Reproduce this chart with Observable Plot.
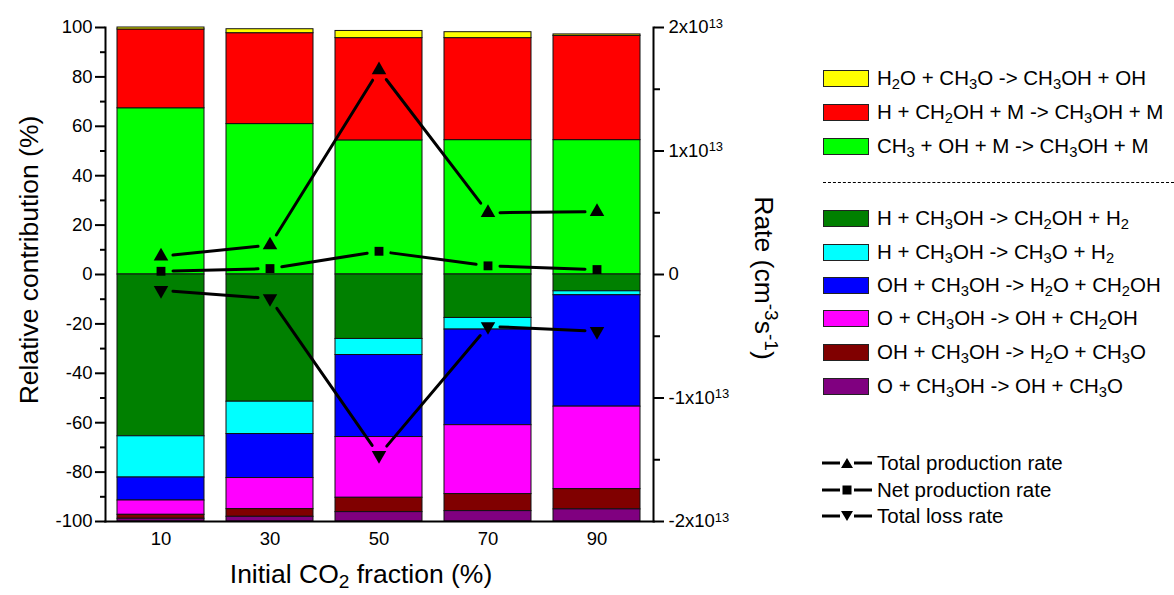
<!DOCTYPE html>
<html><head><meta charset="utf-8">
<script src="https://cdn.jsdelivr.net/npm/d3@7"></script>
<script src="https://cdn.jsdelivr.net/npm/@observablehq/plot@0.6"></script>
<style>
body{margin:0;background:#fff;font-family:"Liberation Sans",Arial,sans-serif;color:#000;}
#wrap{position:relative;width:1174px;height:595px;background:#fff;}
.t{position:absolute;white-space:nowrap;line-height:1;}
.title{font-size:26.5px;}
.leg{font-size:20.5px;}
sub{font-size:0.72em;vertical-align:-0.3em;line-height:0;}
sup{font-size:0.72em;vertical-align:0.5em;line-height:0;}
.sw{position:absolute;width:46px;height:17px;border:1px solid #222;box-sizing:border-box;}
</style></head><body><div id="wrap"></div>
<script>
// Categories (initial CO2 fraction, %)
const categories = ["10", "30", "50", "70", "90"];

// Reaction labels (HTML) and colours
const reactionLabels = [
  "H<sub>2</sub>O + CH<sub>3</sub>O -> CH<sub>3</sub>OH + OH",
  "H + CH<sub>2</sub>OH + M -> CH<sub>3</sub>OH + M",
  "CH<sub>3</sub> + OH + M -> CH<sub>3</sub>OH + M",
  "H + CH<sub>3</sub>OH -> CH<sub>2</sub>OH + H<sub>2</sub>",
  "H + CH<sub>3</sub>OH -> CH<sub>3</sub>O + H<sub>2</sub>",
  "OH + CH<sub>3</sub>OH -> H<sub>2</sub>O + CH<sub>2</sub>OH",
  "O + CH<sub>3</sub>OH -> OH + CH<sub>2</sub>OH",
  "OH + CH<sub>3</sub>OH -> H<sub>2</sub>O + CH<sub>3</sub>O",
  "O + CH<sub>3</sub>OH -> OH + CH<sub>3</sub>O"
];
const reactionKeys = ["h2o_ch3o", "h_ch2oh_m", "ch3_oh_m", "h_ch3oh_ch2oh", "h_ch3oh_ch3o", "oh_ch3oh_ch2oh", "o_ch3oh_ch2oh", "oh_ch3oh_ch3o", "o_ch3oh_ch3o"];
const reactionColors = ["#FFFF00", "#FF0000", "#00FF00", "#008000", "#00FFFF", "#0000FF", "#FF00FF", "#800000", "#800080"];

// Relative contributions (%) — production positive, consumption negative
const h2o_ch3o       = [0.8, 1.6, 2.9, 2.4, 0.6];
const h_ch2oh_m      = [31.9, 36.8, 41.4, 41.3, 42.2];
const ch3_oh_m       = [67.3, 60.9, 54.3, 54.4, 54.4];
const h_ch3oh_ch2oh  = [-65.5, -51.5, -26.1, -17.6, -6.8];
const h_ch3oh_ch3o   = [-16.7, -13.1, -6.5, -4.7, -1.6];
const oh_ch3oh_ch2oh = [-9.3, -17.8, -33.2, -38.7, -45.1];
const o_ch3oh_ch2oh  = [-5.8, -12.6, -24.6, -27.9, -33.4];
const oh_ch3oh_ch3o  = [-1.6, -3.1, -5.8, -6.9, -8.2];
const o_ch3oh_ch3o   = [-1.1, -1.9, -3.8, -4.2, -4.9];

// Rates (cm^-3 s^-1), right axis
const totalProduction = [1.48e12, 2.38e12, 1.656e13, 5.0e12, 5.08e12];
const netProduction   = [2.6e11, 4.8e11, 1.88e12, 7.0e11, 4.0e11];
const totalLoss       = [-1.28e12, -1.94e12, -1.464e13, -4.2e12, -4.6e12];

// Axis ticks
const leftTicks = [-100, -80, -60, -40, -20, 0, 20, 40, 60, 80, 100];
const leftMinor = [-90, -70, -50, -30, -10, 10, 30, 50, 70, 90];
const rightTicks = [-2e13, -1e13, 0, 1e13, 2e13];
const rightMinor = [-1.5e13, -5e12, 5e12, 1.5e13];
const rateMax = 2e13;

// ---------- build tables ----------
const series = {h2o_ch3o, h_ch2oh_m, ch3_oh_m, h_ch3oh_ch2oh, h_ch3oh_ch3o, oh_ch3oh_ch2oh, o_ch3oh_ch2oh, oh_ch3oh_ch3o, o_ch3oh_ch3o};
const order = ["ch3_oh_m", "h_ch2oh_m", "h2o_ch3o", "h_ch3oh_ch2oh", "h_ch3oh_ch3o", "oh_ch3oh_ch2oh", "o_ch3oh_ch2oh", "oh_ch3oh_ch3o", "o_ch3oh_ch3o"];
const barRows = [];
for (const k of order) categories.forEach((c, i) => barRows.push({cat: c, reaction: k, value: series[k][i]}));

const toPct = r => r / rateMax * 100;
function pts(arr) { return categories.map((c, i) => ({cat: c, y: toPct(arr[i])})); }
function segs(arr) { const p = pts(arr); return p.slice(1).map((d, i) => ({x1: p[i].cat, y1: p[i].y, x2: d.cat, y2: d.y})); }
const rateFmt = v => {
  if (v === 0) return "0";
  const m = v / 1e13;
  return (m < 0 ? "-" : "") + Math.abs(m) + "x10^13";
};

const lineOpts = {x1: "x1", y1: "y1", x2: "x2", y2: "y2", stroke: "#000", strokeWidth: 3, headLength: 0, insetStart: 12, insetEnd: 12};

const chart = Plot.plot({
  width: 1174, height: 595,
  marginLeft: 105, marginRight: 521, marginTop: 27, marginBottom: 74,
  x: {type: "band", domain: categories, paddingInner: 0.2, paddingOuter: 0.1, axis: null},
  y: {domain: [-100, 100], axis: null},
  color: {domain: reactionKeys, range: reactionColors},
  style: {fontFamily: "'Liberation Sans', Arial, sans-serif", fontSize: "18.5px", background: "transparent", overflow: "visible", color: "#000"},
  marks: [
    Plot.barY(barRows, {x: "cat", y: "value", fill: "reaction", stroke: "#111", strokeWidth: 1}),
    Plot.frame({anchor: "left", strokeWidth: 2}),
    Plot.frame({anchor: "right", strokeWidth: 2}),
    Plot.frame({anchor: "bottom", strokeWidth: 2}),
    Plot.axisY({ticks: leftTicks, tickSize: 10, tickPadding: 3, strokeWidth: 2, tickFormat: d => String(d), label: null}),
    Plot.axisY({ticks: leftMinor, tickSize: 5, strokeWidth: 2, tickFormat: () => "", label: null}),
    Plot.axisY({anchor: "right", ticks: rightTicks.map(toPct), tickSize: 10, tickPadding: 5, strokeWidth: 2, tickFormat: p => rateFmt(p / 100 * rateMax), label: null}),
    Plot.axisY({anchor: "right", ticks: rightMinor.map(toPct), tickSize: 6, strokeWidth: 2, tickFormat: () => "", label: null}),
    Plot.axisX({tickSize: 0, tickPadding: 10, label: null}),
    Plot.arrow(segs(totalProduction), lineOpts),
    Plot.arrow(segs(netProduction), lineOpts),
    Plot.arrow(segs(totalLoss), lineOpts),
    Plot.dot(pts(totalProduction), {x: "cat", y: "y", symbol: "triangle", r: 5.4, fill: "#000"}),
    Plot.dot(pts(netProduction), {x: "cat", y: "y", symbol: "square", r: 5, fill: "#000"}),
    Plot.dot(pts(totalLoss), {x: "cat", y: "y", symbol: "triangle", r: 5.4, fill: "#000", rotate: 180})
  ]
});

// superscripts in right-axis tick labels
d3.select(chart).selectAll("text").each(function() {
  const t = this.textContent;
  if (t.includes("^")) {
    const [base, exp] = t.split("^");
    const sel = d3.select(this);
    sel.text(null);
    sel.append("tspan").text(base);
    sel.append("tspan").attr("dy", "-0.45em").attr("font-size", "13px").text(exp);
  }
});

const wrap = document.getElementById("wrap");
wrap.appendChild(chart);

function addText(html, cls, x, y, rot) {
  const d = document.createElement("div");
  d.className = "t " + cls;
  d.innerHTML = html;
  d.style.left = x + "px"; d.style.top = y + "px";
  d.style.transform = "translate(-50%,-50%)" + (rot ? ` rotate(${rot}deg)` : "");
  wrap.appendChild(d);
}
addText("Relative contribution (%)", "title", 29, 260, -90);
addText("Initial CO<sub>2</sub> fraction (%)", "title", 361, 574, 0);
addText("Rate (cm<sup>-3</sup>s<sup>-1</sup>)", "title", 764, 278, 90);

// Legend (reactions)
const legendRows = [78, 112, 146, 218, 252, 285, 318, 352, 386];
reactionLabels.forEach((lab, i) => {
  const cy = legendRows[i];
  const sw = document.createElement("div");
  sw.className = "sw";
  sw.style.left = "823px"; sw.style.top = (cy - 8.5) + "px";
  sw.style.background = reactionColors[i];
  wrap.appendChild(sw);
  const t = document.createElement("div");
  t.className = "t leg";
  t.innerHTML = lab;
  t.style.left = "877px"; t.style.top = (cy - 10) + "px";
  wrap.appendChild(t);
});
const dash = document.createElement("div");
dash.style.cssText = "position:absolute;left:823px;top:182px;width:351px;border-top:1.5px dashed #000;";
wrap.appendChild(dash);

// Legend (rates)
const lineLegend = [["Total production rate", "up"], ["Net production rate", "sq"], ["Total loss rate", "down"]];
const lineLegendY = [463, 490, 516];
lineLegend.forEach(([lab, m], i) => {
  const cy = lineLegendY[i];
  const s = document.createElementNS("http://www.w3.org/2000/svg", "svg");
  s.setAttribute("width", 52); s.setAttribute("height", 16);
  s.style.cssText = `position:absolute;left:821px;top:${cy - 8}px;`;
  let marker = "";
  if (m === "up") marker = '<path d="M26,3 L32,13 L20,13 Z" fill="#000"/>';
  if (m === "sq") marker = '<rect x="21.5" y="3.5" width="9" height="9" fill="#000"/>';
  if (m === "down") marker = '<path d="M26,13 L32,3 L20,3 Z" fill="#000"/>';
  s.innerHTML = '<line x1="1" y1="8" x2="19" y2="8" stroke="#000" stroke-width="3"/><line x1="33" y1="8" x2="51" y2="8" stroke="#000" stroke-width="3"/>' + marker;
  wrap.appendChild(s);
  const t = document.createElement("div");
  t.className = "t leg";
  t.textContent = lab;
  t.style.left = "877px"; t.style.top = (cy - 10) + "px";
  wrap.appendChild(t);
});
</script></body></html>
